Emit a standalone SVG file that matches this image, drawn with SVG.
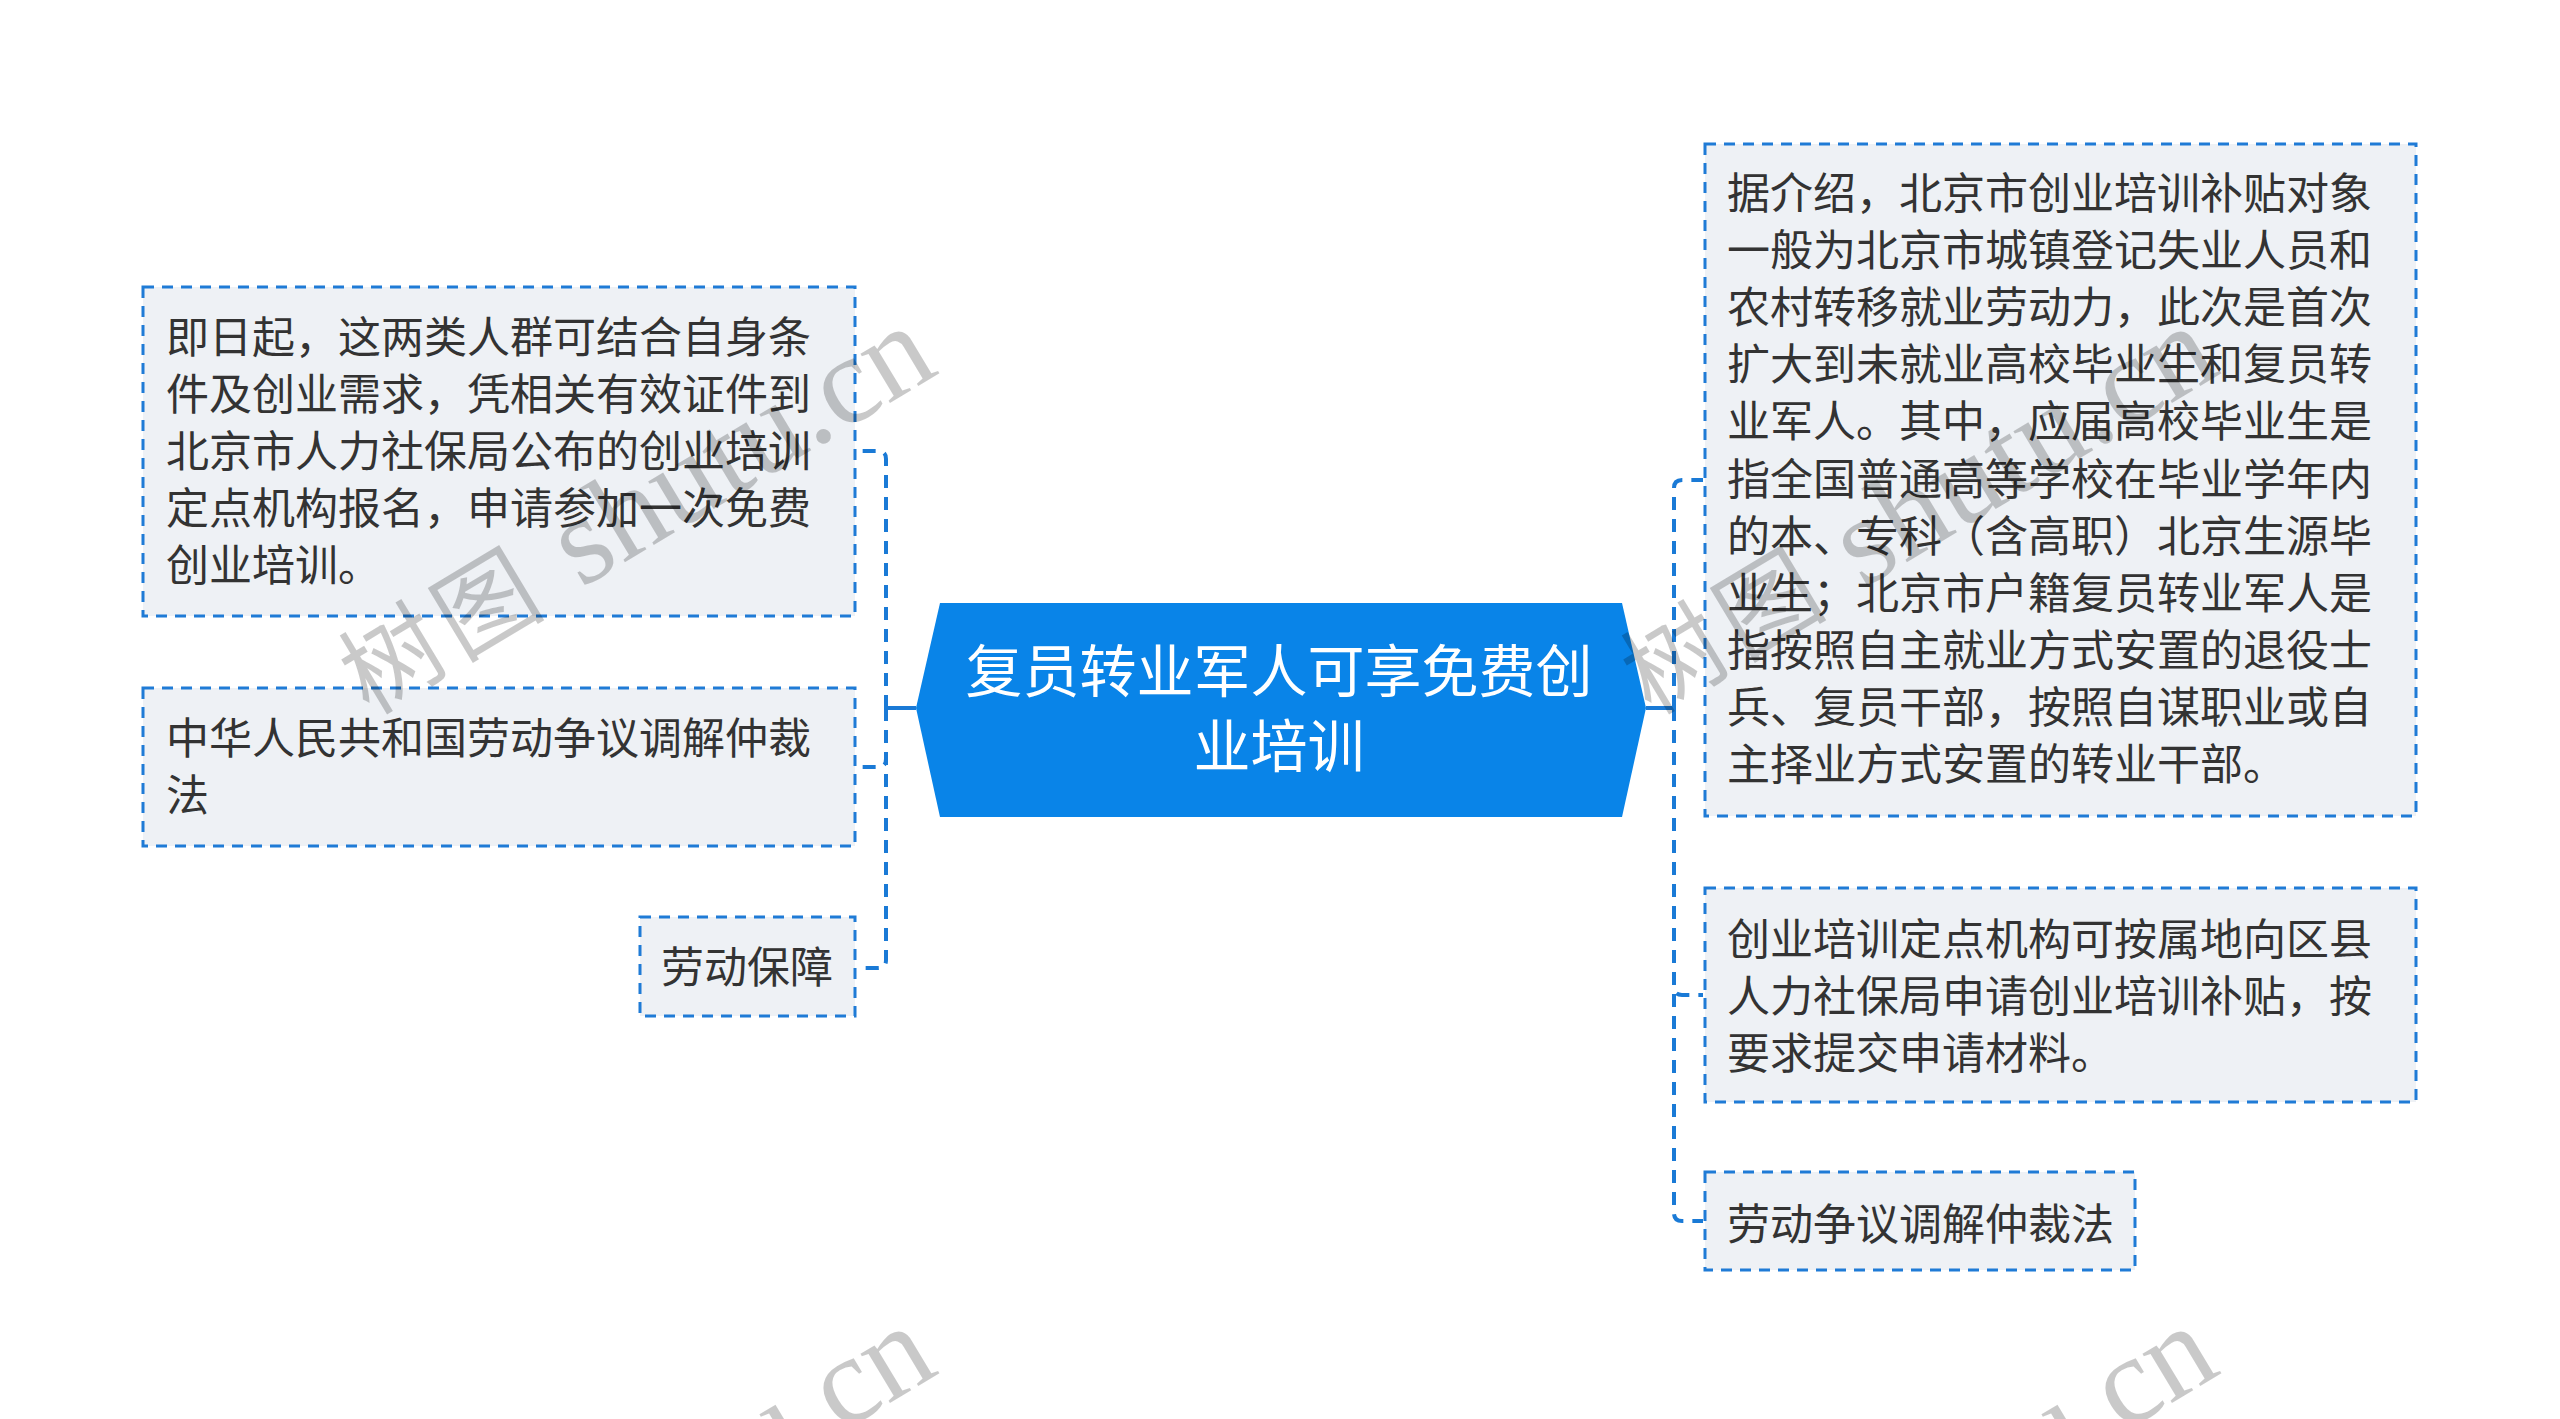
<svg xmlns="http://www.w3.org/2000/svg" width="2560" height="1419" viewBox="0 0 2560 1419">
  <defs>
    <style>
      .box { fill: #eef1f5; stroke: #1f7bd6; stroke-width: 3; stroke-dasharray: 11 8; }
      .txt { font-family: "Noto Sans CJK SC", "Noto Sans", sans-serif; font-size: 43px; fill: #333333; }
      .ctxt { font-family: "Noto Sans CJK SC", "Noto Sans", sans-serif; font-size: 57px; fill: #ffffff; text-anchor: middle; }
      .link { fill: none; stroke: #1a7ad6; stroke-width: 4; stroke-dasharray: 13 9; }
      .solid { fill: none; stroke: #1a7ad6; stroke-width: 4; }
      .wm { font-family: "Liberation Serif", "Noto Sans CJK SC", serif; fill: #000000; fill-opacity: 0.21; }
      .wmc { font-size: 100px; letter-spacing: 8px; }
      .wml { font-size: 125px; letter-spacing: 0px; }
    </style>
  </defs>
  <rect x="0" y="0" width="2560" height="1419" fill="#ffffff"/>

  <g id="connectors">
    <path class="solid" d="M 916 708 H 886"/>
    <path class="solid" d="M 1646 708 H 1674"/>
    <path class="link" d="M 886 708 V 459 Q 886 451 878 451 H 857"/>
    <path class="link" d="M 886 708 V 759 Q 886 767 878 767 H 857"/>
    <path class="link" d="M 886 708 V 960 Q 886 968 878 968 H 857"/>
    <path class="link" d="M 1674 708 V 488 Q 1674 480 1682 480 H 1703"/>
    <path class="link" d="M 1674 708 V 987 Q 1674 995 1682 995 H 1703"/>
    <path class="link" d="M 1674 708 V 1213 Q 1674 1221 1682 1221 H 1703"/>
  </g>

  <g id="center">
    <polygon points="940,603 1622,603 1646,708 1622,817 940,817 916,708" fill="#0984e8"/>
    <text class="ctxt" x="1279" y="692">复员转业军人可享免费创</text>
    <text class="ctxt" x="1279" y="767">业培训</text>
  </g>

  <g id="left1">
    <rect class="box" x="143" y="287" width="712" height="329"/>
    <text class="txt" x="166" y="353">即日起，这两类人群可结合自身条</text>
    <text class="txt" x="166" y="410">件及创业需求，凭相关有效证件到</text>
    <text class="txt" x="166" y="467">北京市人力社保局公布的创业培训</text>
    <text class="txt" x="166" y="524">定点机构报名，申请参加一次免费</text>
    <text class="txt" x="166" y="581">创业培训。</text>
  </g>

  <g id="left2">
    <rect class="box" x="143" y="688" width="712" height="158"/>
    <text class="txt" x="166" y="754">中华人民共和国劳动争议调解仲裁</text>
    <text class="txt" x="166" y="811">法</text>
  </g>

  <g id="left3">
    <rect class="box" x="640" y="917" width="215" height="99"/>
    <text class="txt" x="661" y="983">劳动保障</text>
  </g>

  <g id="right1">
    <rect class="box" x="1705" y="144" width="711" height="672"/>
    <text class="txt" x="1727" y="209">据介绍，北京市创业培训补贴对象</text>
    <text class="txt" x="1727" y="266">一般为北京市城镇登记失业人员和</text>
    <text class="txt" x="1727" y="323">农村转移就业劳动力，此次是首次</text>
    <text class="txt" x="1727" y="380">扩大到未就业高校毕业生和复员转</text>
    <text class="txt" x="1727" y="437">业军人。其中，应届高校毕业生是</text>
    <text class="txt" x="1727" y="495">指全国普通高等学校在毕业学年内</text>
    <text class="txt" x="1727" y="552">的本、专科（含高职）北京生源毕</text>
    <text class="txt" x="1727" y="609">业生；北京市户籍复员转业军人是</text>
    <text class="txt" x="1727" y="666">指按照自主就业方式安置的退役士</text>
    <text class="txt" x="1727" y="723">兵、复员干部，按照自谋职业或自</text>
    <text class="txt" x="1727" y="780">主择业方式安置的转业干部。</text>
  </g>

  <g id="right2">
    <rect class="box" x="1705" y="888" width="711" height="214"/>
    <text class="txt" x="1727" y="955">创业培训定点机构可按属地向区县</text>
    <text class="txt" x="1727" y="1012">人力社保局申请创业培训补贴，按</text>
    <text class="txt" x="1727" y="1069">要求提交申请材料。</text>
  </g>

  <g id="right3">
    <rect class="box" x="1705" y="1172" width="430" height="98"/>
    <text class="txt" x="1727" y="1240">劳动争议调解仲裁法</text>
  </g>

  <g id="watermarks">
    <text class="wm" transform="translate(369 716) rotate(-31)"><tspan class="wmc">树图</tspan><tspan class="wml"> shutu.cn</tspan></text>
    <text class="wm" transform="translate(1651 716) rotate(-31)"><tspan class="wmc">树图</tspan><tspan class="wml"> shutu.cn</tspan></text>
    <text class="wm" transform="translate(369 1716) rotate(-31)"><tspan class="wmc">树图</tspan><tspan class="wml"> shutu.cn</tspan></text>
    <text class="wm" transform="translate(1651 1716) rotate(-31)"><tspan class="wmc">树图</tspan><tspan class="wml"> shutu.cn</tspan></text>
  </g>
</svg>
